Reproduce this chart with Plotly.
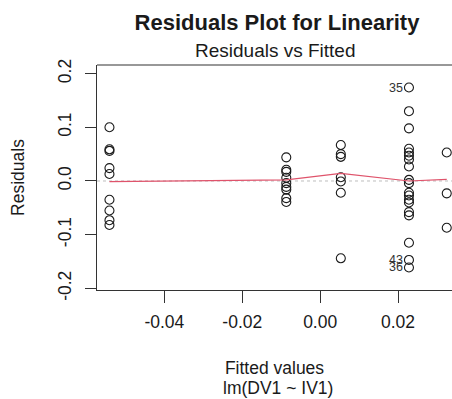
import plotly.graph_objects as go

# Fitted value levels (one column of points per level)
fitted_levels = [-0.0541, -0.0087, 0.0053, 0.0228, 0.0325]

# Residuals per fitted level
resid_g1 = [0.100, 0.059, 0.056, 0.024, 0.013, -0.035, -0.055, -0.073, -0.082]
resid_g2 = [0.044, 0.021, 0.017, 0.006, -0.004, -0.011, -0.016, -0.032, -0.039]
resid_g3 = [0.067, 0.050, 0.045, 0.007, -0.001, -0.022, -0.144]
resid_g4 = [0.174, 0.130, 0.098, 0.060, 0.053, 0.047, 0.040, 0.027, 0.002, -0.004,
            -0.022, -0.027, -0.035, -0.040, -0.058, -0.064, -0.115, -0.147, -0.161]
resid_g5 = [0.053, -0.023, -0.087]
resid_groups = [resid_g1, resid_g2, resid_g3, resid_g4, resid_g5]

# Lowess smoother values at each fitted level
smooth_y = [-0.001, 0.002, 0.014, 0.000, 0.003]

# Labelled extreme observations
label_names = ["35", "43", "36"]
label_x = [0.0228, 0.0228, 0.0228]
label_y = [0.174, -0.147, -0.161]

x_tickvals = [-0.04, -0.02, 0.00, 0.02]
x_ticktext = ["-0.04", "-0.02", "0.00", "0.02"]
y_tickvals = [0.2, 0.1, 0.0, -0.1, -0.2]
y_ticktext = ["0.2", "0.1", "0.0", "-0.1", "-0.2"]

fx, fy = [], []
for lvl, grp in zip(fitted_levels, resid_groups):
    fx += [lvl] * len(grp)
    fy += grp

W, H = 452, 399
L, T, B, R = 97, 65, 109, 0
PH = H - T - B
FONT = "Liberation Sans, Arial, Helvetica, sans-serif"
INK = "#1a1a1a"

fig = go.Figure()
fig.add_hline(y=0, line=dict(color="#BEBEBE", width=1, dash="dot"), layer="below")
fig.add_trace(go.Scatter(
    x=fx, y=fy, mode="markers",
    marker=dict(symbol="circle-open", size=9, color=INK, line=dict(width=1.1, color=INK)),
    hoverinfo="skip", showlegend=False))
fig.add_trace(go.Scatter(
    x=fitted_levels, y=smooth_y, mode="lines",
    line=dict(color="#DF536B", width=1.2), showlegend=False))

annotations = []
for name, lx, ly in zip(label_names, label_x, label_y):
    annotations.append(dict(text=name, x=lx, y=ly, xref="x", yref="y", showarrow=False,
                            xanchor="right", yanchor="middle", xshift=-4,
                            font=dict(family=FONT, size=12.5, color="#333333")))
annotations.append(dict(text="Residuals vs Fitted", xref="paper", yref="paper",
                        x=(275 - L) / (W - L), y=1 + 15 / PH,
                        showarrow=False, xanchor="center", yanchor="middle",
                        font=dict(size=19, family=FONT, color=INK)))
annotations.append(dict(text="lm(DV1 ~ IV1)", xref="paper", yref="paper",
                        x=(278 - L) / (W - L), y=-(388 - (H - B)) / PH,
                        showarrow=False, xanchor="center", yanchor="middle",
                        font=dict(size=17.5, family=FONT, color=INK)))

# top border of box
fig.add_shape(type="line", xref="paper", yref="paper", x0=0, x1=1, y0=1, y1=1,
              line=dict(color="#333333", width=1.2))

fig.update_layout(
    width=W, height=H,
    margin=dict(l=L, r=R, t=T, b=B),
    paper_bgcolor="white", plot_bgcolor="white",
    font=dict(family=FONT, color=INK, size=17),
    title=dict(text="<b>Residuals Plot for Linearity</b>", xref="container", yref="container",
               x=277 / W, y=1 - 22 / H, xanchor="center", yanchor="middle",
               font=dict(size=22, family=FONT, color=INK)),
    annotations=annotations,
    xaxis=dict(range=[-0.0573, 0.03385], showgrid=False, zeroline=False,
               showline=True, linecolor="#333333", linewidth=1.2,
               ticks="outside", ticklen=12, tickcolor="#333333", tickwidth=1.2,
               tickvals=x_tickvals, ticktext=x_ticktext, ticklabelstandoff=4,
               tickfont=dict(size=17.5),
               title=dict(text="Fitted values", font=dict(size=17.5), standoff=30)),
    yaxis=dict(range=[-0.203, 0.216], showgrid=False, zeroline=False,
               showline=True, linecolor="#333333", linewidth=1.2,
               ticks="outside", ticklen=11, tickcolor="#333333", tickwidth=1.2,
               tickvals=y_tickvals, ticktext=y_ticktext, tickangle=-90,
               ticklabelstandoff=7,
               tickfont=dict(size=17.5),
               title=dict(text="Residuals", font=dict(size=17.5), standoff=25)),
)

fig.write_html("out.html")
